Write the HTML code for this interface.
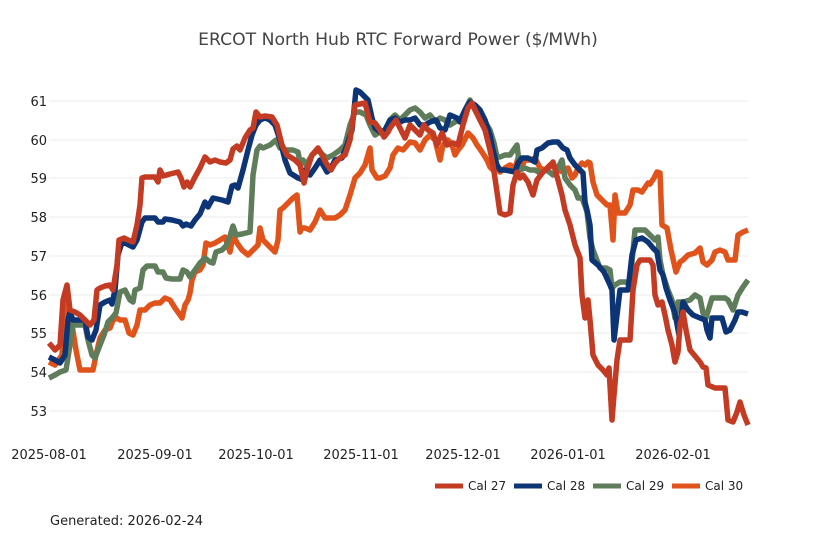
<!DOCTYPE html>
<html><head><meta charset="utf-8"><style>
body{margin:0;background:#fff;}
svg{display:block;font-family:"DejaVu Sans","Liberation Sans",sans-serif;}
</style></head><body>
<svg width="818" height="545" viewBox="0 0 818 545" xmlns="http://www.w3.org/2000/svg">
<rect width="818" height="545" fill="#fff"/>
<text x="398" y="45" text-anchor="middle" font-size="17.2" fill="#444">ERCOT North Hub RTC Forward Power ($/MWh)</text>
<g stroke="#ebebeb" stroke-width="1">
<line x1="49" x2="748" y1="101" y2="101"/><line x1="49" x2="748" y1="140" y2="140"/>
<line x1="49" x2="748" y1="178" y2="178"/><line x1="49" x2="748" y1="217" y2="217"/>
<line x1="49" x2="748" y1="256" y2="256"/><line x1="49" x2="748" y1="295" y2="295"/>
<line x1="49" x2="748" y1="333" y2="333"/><line x1="49" x2="748" y1="372" y2="372"/>
<line x1="49" x2="748" y1="411" y2="411"/>
</g>
<g font-size="13" fill="#222" text-anchor="end">
<text x="47" y="106">61</text><text x="47" y="145">60</text><text x="47" y="183">59</text>
<text x="47" y="222">58</text><text x="47" y="261">57</text><text x="47" y="300">56</text>
<text x="47" y="338">55</text><text x="47" y="377">54</text><text x="47" y="416">53</text>
</g>
<g font-size="13" fill="#222" text-anchor="middle">
<text x="49" y="459">2025-08-01</text><text x="155" y="459">2025-09-01</text>
<text x="256" y="459">2025-10-01</text><text x="361" y="459">2025-11-01</text>
<text x="463" y="459">2025-12-01</text><text x="568" y="459">2026-01-01</text>
<text x="673" y="459">2026-02-01</text>
</g>
<g fill="none" stroke-width="5.5" stroke-linejoin="round">
<polyline stroke="#e0531a" points="49,362 55,365 62,355 65,300 68,310 72,325 76,350 80,370 87,370 93,370 96,355 100,338 105,330 110,328 113,320 117,318 120,320 125,320 129,333 133,335 137,325 140,310 145,310 150,305 155,303 160,303 165,298 170,300 175,308 180,315 182,318 185,305 188,300 190,293 192,280 195,272 200,270 203,265 206,243 210,245 215,243 220,240 225,237 230,252 233,235 237,243 242,250 248,255 253,250 258,245 260,228 263,240 268,245 275,252 278,240 280,210 283,208 288,203 293,198 297,195 300,232 302,228 305,228 310,230 315,222 320,210 325,218 330,218 335,218 340,215 345,210 350,195 355,178 360,173 365,165 370,148 372,170 377,178 380,178 385,176 390,168 393,155 398,148 403,150 410,142 415,143 420,150 425,140 430,135 435,140 440,160 443,145 448,140 452,145 455,155 458,150 462,145 468,133 473,138 477,145 482,152 487,160 490,167 493,170 497,168 500,172 505,168 510,165 515,168 518,158 520,170 525,160 530,160 535,158 540,168 545,170 550,165 555,168 558,170 563,172 568,168 572,178 575,175 578,168 582,163 585,165 588,162 590,163 593,182 597,195 602,200 607,205 610,205 613,240 615,195 618,213 625,213 630,205 633,190 638,190 642,192 648,183 650,184 654,178 657,172 660,173 662,225 667,228 671,250 676,272 680,262 683,260 688,255 695,253 700,248 703,262 707,265 712,260 715,252 720,250 725,252 728,260 732,260 735,260 738,235 743,232 748,230"/>
<polyline stroke="#5f7d5a" points="49,378 55,375 60,372 66,370 70,345 73,325 78,325 85,325 88,340 92,355 95,358 100,345 104,335 108,322 112,318 116,313 120,292 125,290 130,300 133,302 135,290 140,288 143,270 147,266 155,266 158,272 163,272 166,278 172,279 180,279 183,270 187,272 190,277 195,270 200,263 205,258 210,262 213,263 216,252 222,250 226,246 230,236 233,226 236,235 242,234 250,232 253,175 257,150 260,146 263,148 270,145 276,140 280,148 285,150 293,150 298,152 300,162 303,160 306,165 312,155 318,150 323,155 327,158 333,155 340,150 345,145 350,125 355,112 360,112 366,115 370,125 375,135 380,132 385,130 390,120 395,115 400,120 405,115 410,110 415,108 420,112 425,118 430,115 436,122 440,118 445,120 450,125 455,122 460,120 465,110 470,100 475,110 480,115 485,122 490,130 494,143 497,157 500,157 505,155 510,155 517,145 520,170 525,168 530,170 535,170 540,173 547,170 553,175 558,168 562,160 565,178 570,185 575,190 578,198 582,198 585,206 587,212 590,238 593,250 600,268 606,268 610,270 612,288 615,285 620,282 625,282 630,283 635,230 640,230 645,230 650,235 655,240 658,237 660,260 663,275 668,290 672,300 675,318 678,302 683,302 690,300 695,295 700,298 703,313 706,318 712,298 725,298 728,300 733,310 738,295 743,287 748,280"/>
<polyline stroke="#0d3575" points="49,357 55,360 60,363 65,355 68,320 70,312 73,320 80,320 85,320 88,337 92,340 96,330 100,305 105,302 110,300 112,304 115,290 118,255 122,242 127,244 133,247 137,240 142,222 145,218 150,218 155,218 158,222 163,222 165,219 172,220 180,222 183,226 186,224 191,226 195,220 200,214 205,202 208,207 213,198 222,200 228,202 232,186 235,185 238,188 243,170 248,150 252,135 256,125 260,120 265,118 270,120 275,125 280,140 285,160 290,173 298,178 303,180 305,170 310,175 315,168 320,160 323,165 327,172 331,168 335,160 342,158 347,145 352,130 356,90 360,92 368,100 372,118 375,128 380,132 385,130 390,120 395,118 400,122 405,120 410,120 415,118 420,125 425,125 430,122 436,120 440,128 445,130 450,115 457,118 460,122 465,110 470,102 475,105 480,110 485,120 490,135 493,150 497,165 500,170 505,170 515,172 518,163 522,158 528,158 535,162 537,150 542,148 548,143 553,142 558,142 563,148 567,150 570,158 575,165 580,170 583,173 585,202 587,210 590,225 592,260 598,265 604,272 610,285 612,290 614,340 617,315 620,290 628,290 632,255 636,240 642,238 648,242 653,248 657,252 660,270 663,275 666,288 670,300 675,313 679,335 683,302 688,310 693,315 700,318 705,320 707,330 710,338 712,318 722,318 726,332 730,330 735,320 738,312 742,312 748,314"/>
<polyline stroke="#c23b22" points="49,343 55,350 60,345 63,300 67,285 70,310 75,312 80,315 85,320 90,325 94,320 97,290 100,288 105,286 110,285 113,290 117,265 119,240 124,238 128,240 133,242 137,225 140,205 142,178 145,177 150,177 155,177 158,182 160,170 163,176 170,174 178,172 181,178 184,187 187,182 190,187 195,177 200,168 205,157 210,162 215,160 220,162 226,163 230,160 233,149 237,146 240,150 245,138 250,130 253,128 256,112 260,117 265,116 272,117 277,125 282,145 287,155 295,160 300,165 304,183 307,170 312,155 318,148 322,155 326,163 331,170 335,163 340,158 345,155 350,140 355,105 360,104 365,103 370,122 375,123 380,130 384,137 388,132 390,128 396,120 400,128 405,138 410,125 415,130 420,135 424,125 428,130 433,133 437,145 442,133 447,145 453,143 458,145 463,125 468,108 472,103 476,112 480,120 485,130 490,150 493,165 497,192 500,213 505,215 510,213 513,185 517,172 520,178 523,175 528,182 533,195 537,180 543,172 548,168 553,162 558,180 562,195 565,210 570,225 575,245 580,258 582,295 585,318 588,300 590,320 593,355 598,365 603,370 607,375 609,368 612,420 614,395 617,360 620,340 625,340 630,340 633,290 637,265 640,260 645,260 650,260 653,265 655,295 658,305 662,302 665,315 668,330 672,345 675,362 678,352 680,325 683,312 686,330 690,350 695,356 700,362 703,367 706,368 708,385 715,388 725,388 728,420 733,422 737,412 740,402 744,415 748,425"/>
</g>
<g font-size="12" fill="#222">
<line x1="435" x2="463" y1="486" y2="486" stroke="#c23b22" stroke-width="5"/><text x="468" y="490">Cal 27</text>
<line x1="514" x2="542" y1="486" y2="486" stroke="#0d3575" stroke-width="5"/><text x="547" y="490">Cal 28</text>
<line x1="593" x2="621" y1="486" y2="486" stroke="#5f7d5a" stroke-width="5"/><text x="626" y="490">Cal 29</text>
<line x1="672" x2="700" y1="486" y2="486" stroke="#e0531a" stroke-width="5"/><text x="705" y="490">Cal 30</text>
</g>
<text x="50" y="525" font-size="13" fill="#222">Generated: 2026-02-24</text>
</svg>
</body></html>
